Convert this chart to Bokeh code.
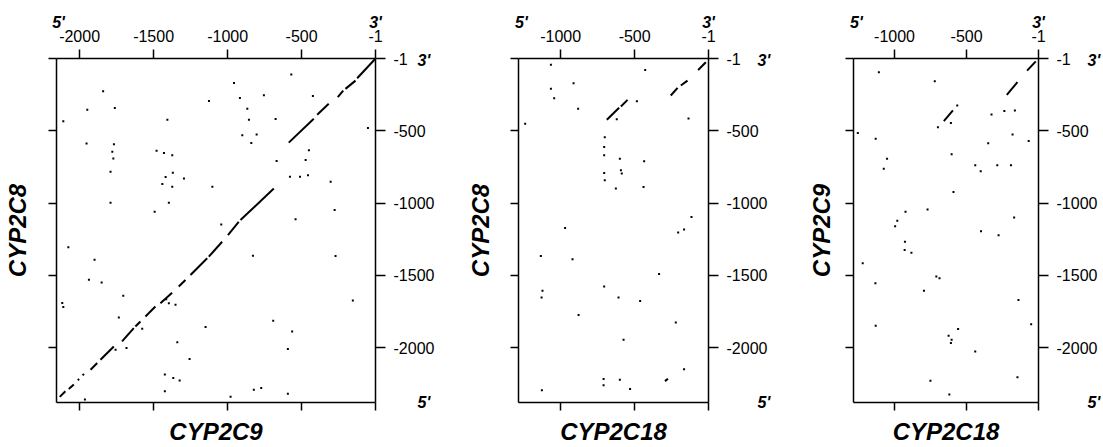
from bokeh.plotting import figure
from bokeh.models import Range1d, FixedTicker, LinearAxis
from bokeh.layouts import row
from bokeh.embed import file_html
from bokeh.resources import INLINE

FONT = "Liberation Sans"

# ---------------- data ----------------
x_ticks_long = [-2000, -1500, -1000, -500, -1]
x_labels_long = ["-2000", "-1500", "-1000", "-500", "-1"]
x_ticks_short = [-1000, -500, -1]
x_labels_short = ["-1000", "-500", "-1"]
y_ticks = [-1, -500, -1000, -1500, -2000]
y_labels = ["-1", "-500", "-1000", "-1500", "-2000"]
end_labels = ["5'", "3'"]

len_2C9_x = 2156
len_2C18 = 1285
len_y = 2380

names_x = ["CYP2C9", "CYP2C18", "CYP2C18"]
names_y = ["CYP2C8", "CYP2C8", "CYP2C9"]

# panel 1: CYP2C9 (x) vs CYP2C8 (y) – diagonal match segments
p1_seg_x0 = [-5, -136, -219, -317, -418, -688, -925, -1037, -1138, -1285, -1375, -1488, -1589, -1634, -1769, -1881, -1970, -2003, -2039, -2096]
p1_seg_y0 = [-5, -153, -222, -313, -417, -900, -1130, -1268, -1382, -1532, -1620, -1716, -1820, -1865, -1992, -2107, -2183, -2218, -2256, -2302]
p1_seg_x1 = [-125, -204, -256, -395, -587, -913, -998, -1127, -1251, -1330, -1454, -1555, -1623, -1713, -1859, -1926, -1980, -2012, -2073, -2134]
p1_seg_y1 = [-137, -210, -268, -389, -582, -1118, -1222, -1371, -1498, -1578, -1693, -1785, -1854, -1957, -2084, -2153, -2192, -2226, -2286, -2341]
p1_dot_x = [-1841, -1948, -1762, -2110, -1407, -1126, -957, -917, -755, -867,
            -856, -676, -570, -424, -901, -804, -840, -52, -1953, -1768,
            -1779, -1772, -1791, -1791, -1480, -1430, -1374, -1419, -1370, -1295,
            -1441, -1374, -1103, -1397, -1493, -669, -473, -451, -579, -511,
            -457, -304, -277, -541,
            -2076, -1899, -1937, -1851, -2117, -2110, -1705, -1735, -1577, -1415,
            -1352, -1397, -1149, -1340, -1257, -1683, -1757, -1424, -1367, -1324,
            -1424, -1964, -980, -829, -1043, -271, -154, -692, -564, -593,
            -593, -823, -773]
p1_dot_y = [-226, -354, -343, -435, -423, -294, -170, -274, -255, -347,
            -423, -419, -110, -260, -531, -526, -584, -481, -588, -593,
            -646, -692, -784, -998, -639, -653, -669, -819, -791, -830,
            -869, -888, -888, -998, -1060, -710, -703, -635, -818, -818,
            -807, -853, -1048, -1112,
            -1306, -1393, -1531, -1550, -1692, -1720, -1642, -1792, -1870, -1665,
            -1704, -1693, -1858, -1964, -2079, -2003, -2015, -2187, -2210, -2227,
            -2302, -2360, -2341, -1364, -1148, -1367, -1675, -1815, -1889, -2010,
            -2320, -2291, -2279]

# panel 2: CYP2C18 (x) vs CYP2C8 (y)
p2_seg_x0 = [-19, -143, -210, -548, -605, -275]
p2_seg_y0 = [-26, -153, -203, -286, -341, -2215]
p2_seg_x1 = [-71, -188, -256, -593, -688, -295]
p2_seg_y1 = [-79, -187, -256, -332, -424, -2232]
p2_dot_x = [-1066, -913, -1066, -1044, -882, -1240, -429, -485, -621, -136,
            -702, -706, -706, -600, -436, -706, -593, -587, -702, -627,
            -440, -116, -166, -206, -970, -1134, -920, -335, -706, -1123,
            -1129, -609, -463, -879, -222, -575, -166, -710, -710, -600,
            -531, -1127]
p2_dot_y = [-44, -171, -210, -275, -348, -451, -79, -295, -420, -415,
            -544, -613, -670, -693, -711, -792, -774, -796, -842, -900,
            -889, -1096, -1183, -1203, -1173, -1367, -1389, -1491, -1578, -1606,
            -1654, -1654, -1677, -1774, -1827, -1946, -2150, -2217, -2261, -2222,
            -2286, -2296]

# panel 3: CYP2C18 (x) vs CYP2C9 (y)
p3_seg_x0 = [-20, -147, -595]
p3_seg_y0 = [-20, -164, -359]
p3_seg_x1 = [-80, -221, -658]
p3_seg_y1 = [-84, -251, -433]
p3_dot_x = [-1109, -721, -327, -238, -165, -1255, -1131, -181, -69, -350,
            -604, -1052, -1075, -440, -402, -287, -192, -591, -771, -924,
            -981, -996, -170, -400, -278, -928, -930, -883, -1221, -710,
            -688, -1133, -796, -140, -1131, -52, -625, -604, -609, -559,
            -440, -147, -751, -620, -565, -699, -609]
p3_dot_y = [-95, -157, -387, -364, -359, -516, -555, -525, -571, -586,
            -663, -693, -762, -739, -780, -739, -739, -923, -1045, -1061,
            -1123, -1160, -1100, -1195, -1222, -1268, -1325, -1344, -1417, -1509,
            -1520, -1555, -1606, -1670, -1849, -1838, -1918, -1946, -1969, -1872,
            -2027, -2206, -2229, -2325, -325, -475, -447]


def style_axis(ax, ticks, labels, show, standoff, tick_out):
    ax.ticker = FixedTicker(ticks=ticks, minor_ticks=[])
    ax.major_label_overrides = {t: l for t, l in zip(ticks, labels)} if show else {t: "" for t in ticks}
    ax.axis_line_color = "black"
    ax.axis_line_width = 1.5
    ax.major_tick_line_color = "black"
    ax.major_tick_line_width = 1.5
    ax.major_tick_out = tick_out
    ax.major_tick_in = 0
    ax.minor_tick_line_color = None
    ax.major_label_text_font = FONT
    ax.major_label_text_font_size = "16px" if show else "0px"
    ax.major_label_text_color = "black"
    ax.major_label_standoff = standoff


def end_axis(ticks, labels, standoff):
    # an axis that only carries the strand-end labels (5' / 3')
    ax = LinearAxis()
    ax.ticker = FixedTicker(ticks=ticks, minor_ticks=[])
    ax.major_label_overrides = {t: l for t, l in zip(ticks, labels)}
    ax.axis_line_color = None
    ax.major_tick_line_color = None
    ax.major_tick_out = 0
    ax.major_tick_in = 0
    ax.minor_tick_line_color = None
    ax.major_label_text_font = FONT
    ax.major_label_text_font_style = "bold italic"
    ax.major_label_text_font_size = "16px"
    ax.major_label_text_color = "black"
    ax.major_label_standoff = standoff
    return ax


def axis_title(ax, text, standoff):
    ax.axis_label = text
    ax.axis_label_text_font = FONT
    ax.axis_label_text_font_style = "bold italic"
    ax.axis_label_text_font_size = "24px"
    ax.axis_label_text_color = "black"
    ax.axis_label_standoff = standoff


def panel(width, bl, br, xlen, xticks, xlabels, segs, dots, xname, yname,
          yl_standoff, end_standoff, five_shift):
    p = figure(width=width, height=447, output_backend="svg", toolbar_location=None,
               title=None, x_axis_location=None, y_axis_location=None,
               x_range=Range1d(-xlen, -1), y_range=Range1d(-len_y, 0),
               min_border_left=bl, min_border_right=br,
               min_border_top=58, min_border_bottom=44)
    p.outline_line_color = None
    p.grid.grid_line_color = None
    p.background_fill_color = "white"
    p.border_fill_color = "white"

    top = LinearAxis(); style_axis(top, xticks, xlabels, True, 8, 9)
    bot = LinearAxis(); style_axis(bot, xticks, xlabels, False, 0, 8)
    rgt = LinearAxis(); style_axis(rgt, y_ticks, y_labels, True, 8, 10)
    lft = LinearAxis(); style_axis(lft, y_ticks, y_labels, False, 0, 8)
    axis_title(bot, xname, 7)
    axis_title(lft, yname, yl_standoff)
    p.add_layout(top, "above")
    p.add_layout(bot, "below")
    p.add_layout(rgt, "right")
    p.add_layout(lft, "left")

    xs, xe = -xlen, -1
    ys, ye = -len_y, 0
    # strand-end labels: 5' ... 3' along top, 3' (top) / 5' (bottom) on the right
    p.add_layout(end_axis([xs + five_shift, xe], end_labels, -4), "above")
    p.add_layout(end_axis([ye - 14, ys + 1], [end_labels[1], end_labels[0]], end_standoff), "right")

    x0, y0, x1, y1 = segs
    p.segment(x0, y0, x1, y1, line_color="black", line_width=2)
    dx, dy = dots
    p.scatter(dx, dy, size=2, marker="square", fill_color="black", line_color=None)
    return p


f1 = panel(440, 56, 65, len_2C9_x, x_ticks_long, x_labels_long,
           (p1_seg_x0, p1_seg_y0, p1_seg_x1, p1_seg_y1), (p1_dot_x, p1_dot_y),
           names_x[0], names_y[0], 18, -20, 14)
f2 = panel(336, 78, 68, len_2C18, x_ticks_short, x_labels_short,
           (p2_seg_x0, p2_seg_y0, p2_seg_x1, p2_seg_y1), (p2_dot_x, p2_dot_y),
           names_x[1], names_y[1], 17, -13, 20)
f3 = panel(327, 77, 60, len_2C18, x_ticks_short, x_labels_short,
           (p3_seg_x0, p3_seg_y0, p3_seg_x1, p3_seg_y1), (p3_dot_x, p3_dot_y),
           names_x[2], names_y[2], 11, -13, 20)

layout = row(f1, f2, f3)
open("out.html", "w").write(file_html(layout, INLINE))
